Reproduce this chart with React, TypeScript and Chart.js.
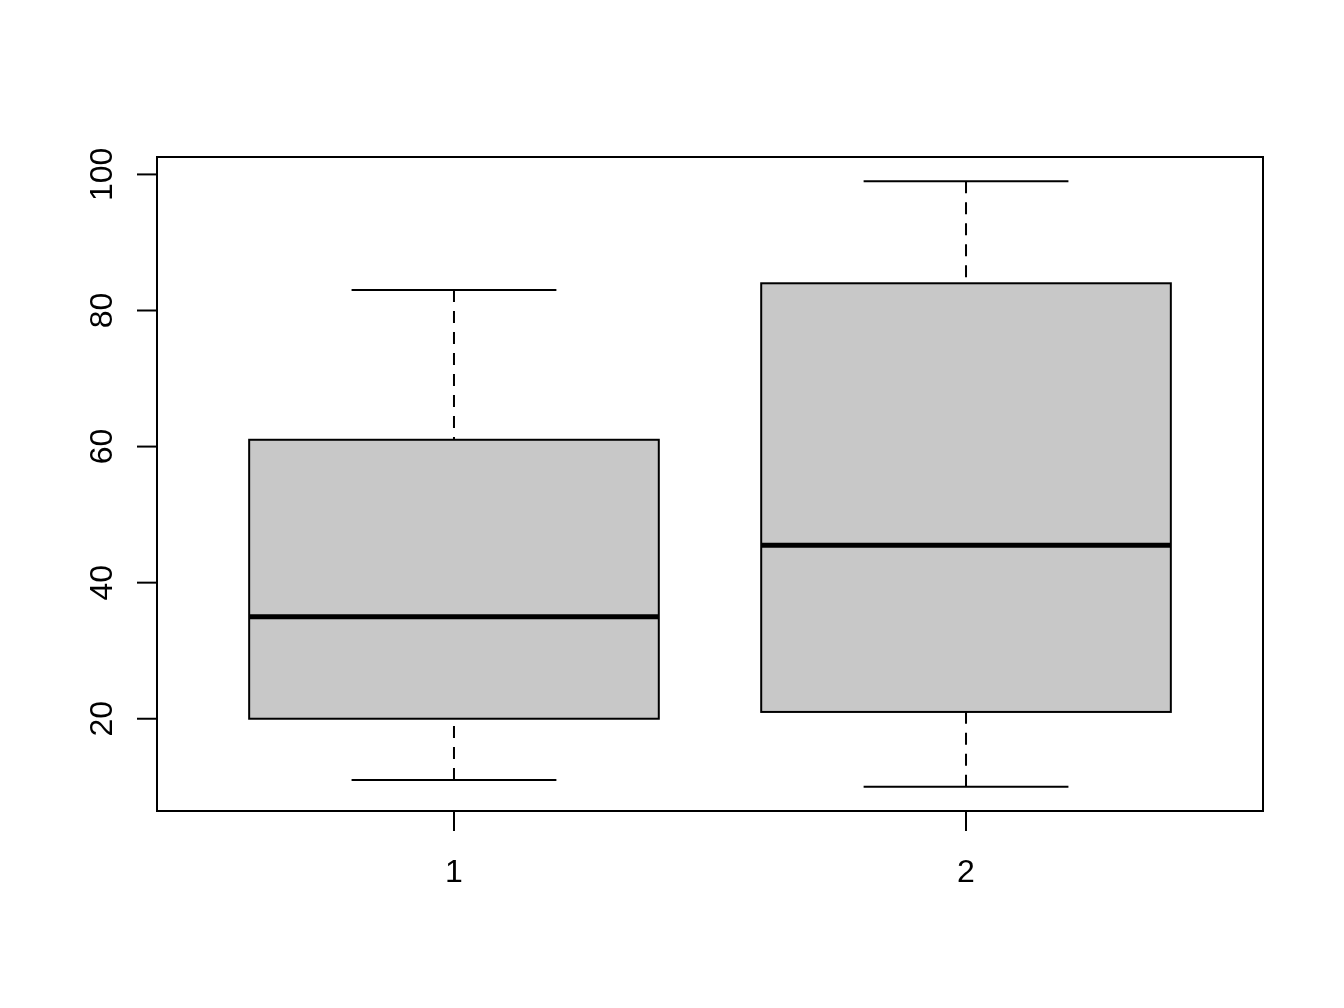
import { useEffect, useRef } from 'react';
import { Chart, registerables, Plugin } from 'chart.js';

Chart.register(...registerables);

// five-number summaries
const categories = ['1', '2'];
const mins = [11, 10];
const q1s = [20, 21];
const medians = [35, 45.5];
const q3s = [61, 84];
const maxs = [83, 99];
const yTickValues = [20, 40, 60, 80, 100];

const FONT = '32px "Liberation Sans", Arial, Helvetica, sans-serif';
const LINE = 2;

const boxplotPlugin: Plugin<'bar'> = {
    id: 'boxplotParts',
    afterDatasetsDraw(chart) {
        const { ctx } = chart;
        const y = chart.scales.y;
        const meta = chart.getDatasetMeta(0);
        ctx.save();
        ctx.strokeStyle = '#000';
        ctx.lineCap = 'butt';
        meta.data.forEach((el: any, i: number) => {
            const cx = el.x;
            const half = el.width / 2;
            const staple = half / 2;
            const yMin = y.getPixelForValue(mins[i]);
            const yMax = y.getPixelForValue(maxs[i]);
            const yQ1 = y.getPixelForValue(q1s[i]);
            const yQ3 = y.getPixelForValue(q3s[i]);
            const yMed = y.getPixelForValue(medians[i]);

            // dashed whiskers, starting at the staples
            ctx.lineWidth = LINE;
            ctx.setLineDash([12, 9]);
            ctx.beginPath();
            ctx.moveTo(cx, yMin);
            ctx.lineTo(cx, yQ1);
            ctx.moveTo(cx, yMax);
            ctx.lineTo(cx, yQ3);
            ctx.stroke();
            ctx.setLineDash([]);

            // staples
            ctx.beginPath();
            ctx.moveTo(cx - staple, yMin);
            ctx.lineTo(cx + staple, yMin);
            ctx.moveTo(cx - staple, yMax);
            ctx.lineTo(cx + staple, yMax);
            ctx.stroke();

            // box outline
            ctx.strokeRect(cx - half, yQ3, el.width, yQ1 - yQ3);

            // median
            ctx.lineWidth = 5;
            ctx.beginPath();
            ctx.moveTo(cx - half, yMed);
            ctx.lineTo(cx + half, yMed);
            ctx.stroke();
        });
        ctx.restore();
    },
};

const axesPlugin: Plugin<'bar'> = {
    id: 'rAxes',
    afterDraw(chart) {
        const { ctx, chartArea } = chart;
        const x = chart.scales.x;
        const y = chart.scales.y;
        const tick = 20;
        ctx.save();
        ctx.strokeStyle = '#000';
        ctx.fillStyle = '#000';
        ctx.lineWidth = LINE;
        ctx.font = FONT;

        // plot frame
        ctx.strokeRect(
            chartArea.left,
            chartArea.top,
            chartArea.right - chartArea.left,
            chartArea.bottom - chartArea.top,
        );

        // x axis ticks + labels
        ctx.textAlign = 'center';
        ctx.textBaseline = 'alphabetic';
        x.ticks.forEach((t) => {
            const px = x.getPixelForValue(t.value);
            ctx.beginPath();
            ctx.moveTo(px, chartArea.bottom);
            ctx.lineTo(px, chartArea.bottom + tick);
            ctx.stroke();
            ctx.fillText(String(t.label), px, chartArea.bottom + 71);
        });

        // y axis ticks + rotated labels
        y.ticks.forEach((t) => {
            const py = y.getPixelForValue(t.value);
            ctx.beginPath();
            ctx.moveTo(chartArea.left, py);
            ctx.lineTo(chartArea.left - tick, py);
            ctx.stroke();
            ctx.save();
            ctx.translate(chartArea.left - 45, py);
            ctx.rotate(-Math.PI / 2);
            ctx.fillText(String(t.label), 0, 0);
            ctx.restore();
        });
        ctx.restore();
    },
};

export default function App() {
    const canvasRef = useRef<HTMLCanvasElement>(null);
    const chartRef = useRef<Chart | null>(null);

    useEffect(() => {
        document.body.style.margin = '0';
        if (chartRef.current) {
            chartRef.current.destroy();
        }
        if (!canvasRef.current) return;

        const positions = categories.map((_, i) => i + 1);
        const lo = Math.min(...mins);
        const hi = Math.max(...maxs);
        const yPad = (hi - lo) * 0.04;
        const xPad = categories.length * 0.04;

        chartRef.current = new Chart(canvasRef.current, {
            type: 'bar',
            data: {
                datasets: [
                    {
                        label: 'box',
                        data: positions.map((p, i) => ({
                            x: p,
                            y: [q1s[i], q3s[i]],
                        })) as any,
                        backgroundColor: '#C8C8C8',
                        borderWidth: 0,
                        categoryPercentage: 1,
                        barPercentage: 0.8,
                    },
                ],
            },
            options: {
                animation: false,
                responsive: false,
                devicePixelRatio: 1,
                layout: {
                    padding: { left: 157, right: 81, top: 157, bottom: 197 },
                },
                plugins: {
                    legend: { display: false },
                    tooltip: { enabled: false },
                },
                scales: {
                    x: {
                        type: 'linear',
                        display: false,
                        offset: false,
                        min: 0.5 - xPad,
                        max: categories.length + 0.5 + xPad,
                        afterBuildTicks: (scale) => {
                            scale.ticks = positions.map((p, i) => ({
                                value: p,
                                label: categories[i],
                            }));
                        },
                    },
                    y: {
                        type: 'linear',
                        display: false,
                        min: lo - yPad,
                        max: hi + yPad,
                        afterBuildTicks: (scale) => {
                            scale.ticks = yTickValues.map((v) => ({
                                value: v,
                                label: String(v),
                            }));
                        },
                    },
                },
            },
            plugins: [boxplotPlugin, axesPlugin],
        });

        return () => {
            if (chartRef.current) {
                chartRef.current.destroy();
                chartRef.current = null;
            }
        };
    }, []);

    return (
        <div
            style={{
                position: 'absolute',
                left: 0,
                top: 0,
                width: 1344,
                height: 1008,
                background: '#fff',
            }}
        >
            <canvas ref={canvasRef} width={1344} height={1008}></canvas>
        </div>
    );
}
